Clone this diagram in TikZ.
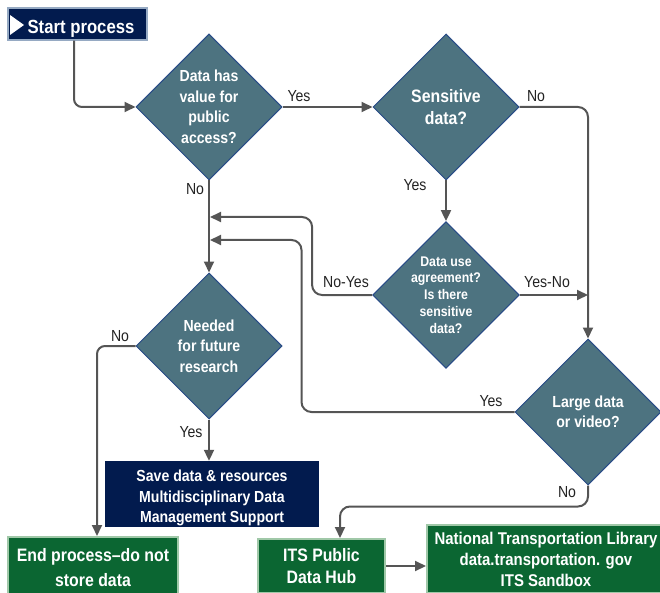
\documentclass[tikz,border=0pt]{standalone}
\usepackage{fontspec}
\setmainfont[FakeStretch=0.88]{Liberation Sans}
\usetikzlibrary{arrows.meta,shapes.geometric}
\definecolor{diafill}{RGB}{77,115,128}
\definecolor{diaborder}{RGB}{40,75,135}
\definecolor{navy}{RGB}{2,27,78}
\definecolor{startborder}{RGB}{150,170,195}
\definecolor{boxgreen}{RGB}{11,102,50}
\definecolor{greenborder}{RGB}{160,200,168}
\definecolor{linecol}{RGB}{85,85,85}
\definecolor{labcol}{RGB}{35,35,35}
\begin{document}
\begin{tikzpicture}[x=1pt,y=-1pt,
  dia/.style={diamond, aspect=1, minimum width=146pt, minimum height=146pt, inner sep=0pt,
    fill=diafill, draw=diaborder, line width=1pt, text=white, align=center,
    font=\bfseries\fontsize{16}{20.5}\selectfont},
  navybox/.style={rectangle, fill=navy, text=white, inner sep=0pt, align=center},
  greenbox/.style={rectangle, fill=boxgreen, draw=greenborder, line width=2pt, text=white,
    inner sep=0pt, align=center},
  lab/.style={inner sep=0pt, text=labcol, font=\fontsize{16}{19}\selectfont},
  arr/.style={draw=linecol, line width=2pt, -{Triangle[length=11pt,width=10pt]}}
]
\useasboundingbox (0,0) rectangle (660,593);

% nodes
\node[navybox, draw=startborder, line width=1.5pt, minimum width=139pt, minimum height=32pt,
  font=\bfseries\fontsize{19}{22}\selectfont] (start) at (77.5,24)
  {\hspace{7pt}\rule{0pt}{22.5pt}Start process};
\fill[white] (10,15) -- (24,25) -- (10,35) -- cycle;

\node[dia] (d1) at (209,107) {Data has\\value for\\public\\access?};
\node[dia, font=\bfseries\fontsize{18}{22}\selectfont] (d2) at (446,107) {Sensitive\\data?};
\node[dia, font=\bfseries\fontsize{14}{16.8}\selectfont] (d3) at (446,295) {Data use\\agreement?\\Is there\\sensitive\\data?};
\node[dia] (d5) at (209,346) {Needed\\for future\\research};
\node[dia] (d4) at (588,412) {Large data\\or video?};

\node[navybox, minimum width=214pt, minimum height=66pt,
  font=\bfseries\fontsize{16}{20.5}\selectfont] (save) at (212,494)
  {\rule{0pt}{19.5pt}Save data \& resources\\Multidisciplinary Data\\Management Support};
\node[greenbox, minimum width=170pt, minimum height=61pt,
  font=\bfseries\fontsize{18}{25}\selectfont] (end) at (93,567.5)
  {End process--do not\\store data};
\node[greenbox, minimum width=127pt, minimum height=54pt,
  font=\bfseries\fontsize{18}{22}\selectfont] (its) at (321.5,566)
  {ITS Public\\Data Hub};
\node[greenbox, minimum width=238pt, minimum height=68pt,
  font=\bfseries\fontsize{17}{21}\selectfont] (ntl) at (546,559)
  {National Transportation Library\\data.transportation. gov\\ITS Sandbox};

\coordinate (j1) at (210,217);
\coordinate (j2) at (210,240);

% connectors
\draw[arr, rounded corners=8pt] ([xshift=-3.5pt]start.south) |- (d1.west);
\draw[arr] (d1.east) -- (d2.west);
\draw[arr, rounded corners=10pt] (d2.east) -| (d4.north);
\draw[arr] (d2.south) -- (d3.north);
\draw[arr] (d3.east) -- (d3.east -| d4.north);
\draw[arr, rounded corners=10pt] (d3.west) -- ++(-60,0) |- (j1);
\draw[arr, rounded corners=10pt] (d4.west) -- ++(-213,0) |- (j2);
\draw[arr] (d1.south) -- (d5.north);
\draw[arr, rounded corners=8pt] (d5.west) -| ([xshift=4pt]end.north);
\draw[arr] (d5.south) -- (d5.south |- save.north);
\draw[arr, rounded corners=10pt] (d4.south) -- ++(0,21) -| ([xshift=18.5pt]its.north);
\draw[arr] (its.east) -- (its.east -| ntl.west);

% labels
\node[lab] (l1) at (299,96) {Yes};
\node[lab] (l2) at (195,189) {No};
\node[lab] (l3) at (536,96) {No};
\node[lab] (l4) at (415,185) {Yes};
\node[lab] (l5) at (346,282) {No-Yes};
\node[lab] (l6) at (547,282) {Yes-No};
\node[lab] (l7) at (120,336) {No};
\node[lab] (l8) at (191,432) {Yes};
\node[lab] (l9) at (491,401) {Yes};
\node[lab] (l10) at (567,492) {No};
\end{tikzpicture}
\end{document}
